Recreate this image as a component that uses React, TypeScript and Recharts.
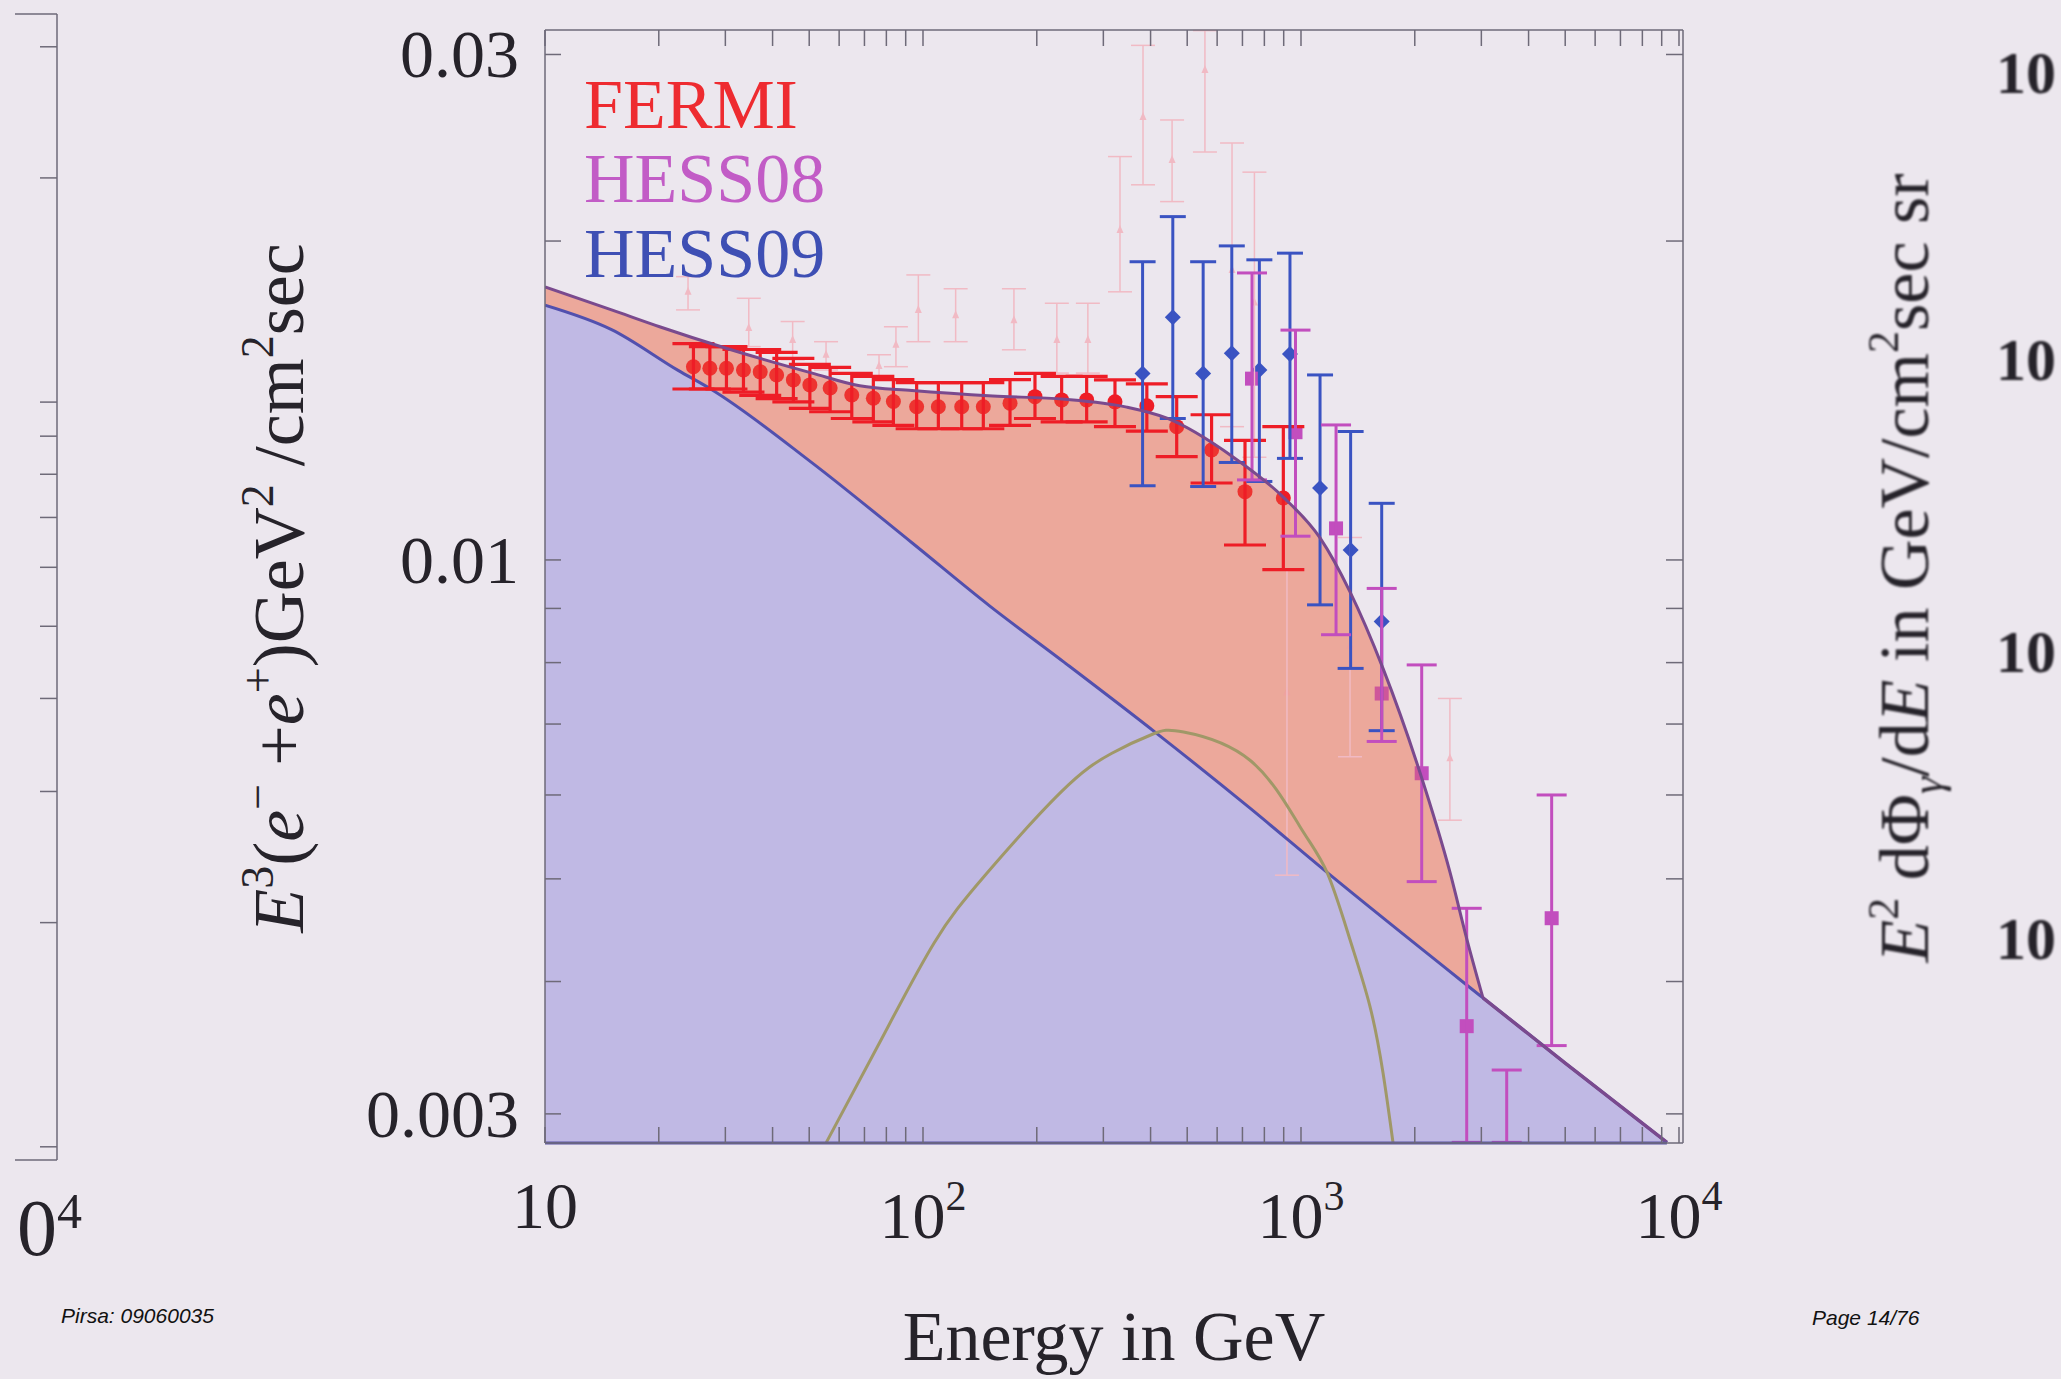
// E^3 (e- + e+) spectrum slide: FERMI / HESS data with background + DM signal curves
// log-log axes, filled background (lavender) and signal excess (salmon)

import React from 'react';
import {
  ComposedChart,
  Area,
  Line,
  Scatter,
  ErrorBar,
  XAxis,
  YAxis,
  ReferenceLine
} from 'recharts';

// ---- values (energy in GeV, E^3 flux) ----

// astrophysical background, blue curve
const bgEnergy = [10, 15, 22.5, 27.7, 50.9, 93.5, 150, 237, 415, 733, 1172, 3030, 5000, 9290];
const bgFlux = [0.0174, 0.0165, 0.0151, 0.01447, 0.01235, 0.01038, 0.00905, 0.008, 0.00686, 0.00583, 0.00507, 0.00386, 0.00335, 0.00282];

// background + signal, purple curve (joins the background at its last point)
const totalEnergy = [10, 15, 20.1, 30, 50.9, 68, 93.5, 153, 237, 346, 442, 661, 896, 1123, 1348, 1648, 2064, 2479, 2749, 3030];
const totalFlux = [0.0181, 0.01722, 0.0166, 0.01585, 0.01501, 0.0146, 0.01445, 0.01428, 0.01418, 0.01394, 0.01361, 0.01251, 0.01147, 0.01049, 0.00933, 0.0079, 0.0063, 0.00507, 0.00438, 0.00386];

// signal alone, olive curve
const sigEnergy = [55.5, 78, 107, 146, 232, 316, 406, 489, 733, 994, 1172, 1348, 1522, 1648, 1751];
const sigFlux = [0.00282, 0.00354, 0.00435, 0.00504, 0.00604, 0.00657, 0.00685, 0.00688, 0.00647, 0.0056, 0.00507, 0.00438, 0.00379, 0.00328, 0.00282];

// FERMI
const fermiEnergy = [24.7, 27.3, 30.2, 33.5, 37.1, 41.0, 45.4, 50.2, 56.8, 64.8, 73.9, 83.5, 96.2, 109.8, 126.6, 144.4, 169.9, 197.8, 232.7, 271, 322, 391, 469, 580, 711, 898];
const fermiFlux = [0.01522, 0.01517, 0.01517, 0.01511, 0.01505, 0.01495, 0.01479, 0.01463, 0.01453, 0.01431, 0.01421, 0.01411, 0.01395, 0.01395, 0.01395, 0.01395, 0.01406, 0.01426, 0.01416, 0.01416, 0.0141, 0.01398, 0.01336, 0.0127, 0.0116, 0.01144];
const fermiHigh = [0.016, 0.0159, 0.0159, 0.0158, 0.0158, 0.0157, 0.0155, 0.0153, 0.0152, 0.015, 0.0149, 0.0148, 0.0147, 0.0147, 0.0147, 0.0147, 0.0148, 0.015, 0.0149, 0.0149, 0.01479, 0.01466, 0.01426, 0.01371, 0.01297, 0.01336];
const fermiLow = [0.0145, 0.0145, 0.0145, 0.0144, 0.0143, 0.0142, 0.0141, 0.0139, 0.0138, 0.0136, 0.0135, 0.0134, 0.0133, 0.0133, 0.0133, 0.0133, 0.0134, 0.0136, 0.0135, 0.0135, 0.01336, 0.01323, 0.01252, 0.01182, 0.01033, 0.00979];

// HESS09
const hess09Energy = [381, 458, 551, 656, 776, 935, 1123, 1353, 1635];
const hess09Flux = [0.015, 0.01695, 0.015, 0.01567, 0.01511, 0.01565, 0.01169, 0.01022, 0.00875];
const hess09High = [0.01912, 0.02109, 0.01912, 0.01979, 0.0192, 0.01948, 0.01495, 0.01322, 0.01131];
const hess09Low = [0.01175, 0.0136, 0.01173, 0.01236, 0.01186, 0.01247, 0.00907, 0.0079, 0.0069];

// HESS08 (the two lowest bars run down to the axis)
const hess08Energy = [742, 967, 1238, 1635, 2086, 2744, 3501, 4604];
const hess08Flux = [0.01483, 0.0132, 0.01071, 0.00748, 0.00629, 0.00363, 0.0026, 0.00459];
const hess08High = [0.01866, 0.01648, 0.01341, 0.0094, 0.00796, 0.00469, 0.0033, 0.006];
const hess08Low = [0.0119, 0.01053, 0.0085, 0.00674, 0.00497, 0.00282, 0.00282, 0.00348];

// faint older data (pale pink triangles)
const oldEnergy = [23.9, 34.6, 45.2, 55.4, 76.5, 84.8, 97.2, 122, 174, 226, 273, 332, 382, 456, 557, 657, 753, 918, 1348, 2477];
const oldFlux = [0.01791, 0.01656, 0.01613, 0.01562, 0.01524, 0.01596, 0.01722, 0.01702, 0.01684, 0.01613, 0.01613, 0.02049, 0.02619, 0.02385, 0.029, 0.01878, 0.0175, 0.0075, 0.0083, 0.0065];
const oldHigh = [0.01851, 0.01766, 0.01679, 0.01607, 0.01562, 0.0166, 0.01858, 0.01803, 0.01803, 0.01747, 0.01747, 0.02403, 0.0306, 0.02602, 0.0316, 0.02475, 0.02323, 0.0098, 0.0105, 0.0074];
const oldLow = [0.01722, 0.0159, 0.01545, 0.01511, 0.0149, 0.01522, 0.01607, 0.01607, 0.01579, 0.01501, 0.01501, 0.01791, 0.0226, 0.02179, 0.02427, 0.01336, 0.0125, 0.00504, 0.00652, 0.00568];

// axes
const X_DOMAIN: [number, number] = [10, 10247];
const Y_DOMAIN: [number, number] = [0.002816, 0.03164];
const xTicks = [10, 20, 30, 40, 50, 60, 70, 80, 90, 100, 200, 300, 400, 500, 600, 700, 800, 900, 1000, 2000, 3000, 4000, 5000, 6000, 7000, 8000, 9000, 10000];
const yTicks = [0.003, 0.004, 0.005, 0.006, 0.007, 0.008, 0.009, 0.01, 0.02, 0.03];
const xTickLabels: Record<string, [string, string]> = {
  '10': ['10', ''],
  '100': ['10', '2'],
  '1000': ['10', '3'],
  '10000': ['10', '4']
};
const yTickLabels: Record<string, string> = { '0.03': '0.03', '0.01': '0.01', '0.003': '0.003' };

// neighbouring plot on the left edge of the slide (only its right axis shows)
const leftFrameDomain: [number, number] = [0.96, 33.2];
const leftFrameTicks = [1, 2, 3, 4, 5, 6, 7, 8, 9, 10, 20, 30];

const PAGE_W = 2061;
const PAGE_H = 1379;
const BG = '#ECE7EE';
const INK = '#26232A';
const AXIS = '#6E6A78';
const SERIF = '"Liberation Serif", "Times New Roman", serif';
const SANS = '"Liberation Sans", Arial, sans-serif';
const TICK_LEN = 16;

const FERMI_RED = '#EE1D26';
const HESS08_MAG = '#C24EBE';
const HESS09_BLUE = '#3A53C2';
const OLD_PINK = '#F1BAC4';

// HESS08 points sitting under the background curve are drawn above its fill
const UNDER_BG_FROM = 2500;

const zip = (es: number[], vs: number[]) => es.map((e, i) => ({ e, v: vs[i] }));
const withErr = (es: number[], vs: number[], lo: number[], hi: number[]) =>
  es.map((e, i) => ({ e, v: vs[i], err: [vs[i] - lo[i], hi[i] - vs[i]] }));

const bgData = zip(bgEnergy, bgFlux);
const totalData = zip(totalEnergy, totalFlux);
const tailData = bgData.filter(d => d.e >= totalEnergy[totalEnergy.length - 1]);
const sigData = zip(sigEnergy, sigFlux);
const fermiData = withErr(fermiEnergy, fermiFlux, fermiLow, fermiHigh);
const hess09Data = withErr(hess09Energy, hess09Flux, hess09Low, hess09High);
const hess08Data = withErr(hess08Energy, hess08Flux, hess08Low, hess08High);
const hess08Upper = hess08Data.filter(d => d.e < UNDER_BG_FROM);
const hess08Lower = hess08Data.filter(d => d.e >= UNDER_BG_FROM);
const oldData = withErr(oldEnergy, oldFlux, oldLow, oldHigh);

function BottomTick(props: any) {
  const { x, y, payload } = props;
  const lab = xTickLabels[String(payload.value)];
  return (
    <g>
      <line x1={x} y1={y} x2={x} y2={y - TICK_LEN} stroke={AXIS} strokeWidth={1.5} />
      {lab && (
        <text
          x={x}
          y={y + (lab[1] ? 95 : 85)}
          textAnchor="middle"
          fontFamily={SERIF}
          fontSize={66}
          fill={INK}
        >
          {lab[0]}
          {lab[1] && <tspan fontSize={42} dy={-28}>{lab[1]}</tspan>}
        </text>
      )}
    </g>
  );
}

function TopTick(props: any) {
  const { x, y } = props;
  return <line x1={x} y1={y} x2={x} y2={y + TICK_LEN} stroke={AXIS} strokeWidth={1.5} />;
}

function LeftTick(props: any) {
  const { x, y, payload } = props;
  const lab = yTickLabels[String(payload.value)];
  return (
    <g>
      <line x1={x} y1={y} x2={x + TICK_LEN} y2={y} stroke={AXIS} strokeWidth={1.5} />
      {lab && (
        <text x={x - 26} y={y + 23} textAnchor="end" fontFamily={SERIF} fontSize={68} fill={INK}>
          {lab}
        </text>
      )}
    </g>
  );
}

function RightTick(props: any) {
  const { x, y } = props;
  return <line x1={x} y1={y} x2={x - TICK_LEN - 1} y2={y} stroke={AXIS} strokeWidth={1.5} />;
}

const dot = (color: string, r: number) => (p: any) =>
  <circle cx={p.cx} cy={p.cy} r={r} fill={color} />;
const diamond = (color: string, h: number) => (p: any) =>
  <polygon points={`${p.cx},${p.cy - h} ${p.cx + h},${p.cy} ${p.cx},${p.cy + h} ${p.cx - h},${p.cy}`} fill={color} />;
const square = (color: string, h: number) => (p: any) =>
  <rect x={p.cx - h} y={p.cy - h} width={2 * h} height={2 * h} fill={color} />;
const triangle = (color: string, h: number) => (p: any) =>
  <polygon points={`${p.cx},${p.cy - h} ${p.cx + h * 0.7},${p.cy + h * 0.6} ${p.cx - h * 0.7},${p.cy + h * 0.6}`} fill={color} />;

function MainChart() {
  return (
    <ComposedChart
      width={PAGE_W}
      height={PAGE_H}
      margin={{ top: 20, right: 358, bottom: 116, left: 345 }}
    >
      {/* excess fill, light base */}
      <Area
        xAxisId="b" yAxisId="l" data={totalData} dataKey="v" type="monotone"
        baseValue={Y_DOMAIN[0]} fill="#ECC3BF" fillOpacity={1} stroke="none"
        isAnimationActive={false} zIndex={100}
      />

      {/* data */}
      <Scatter xAxisId="b" yAxisId="l" data={oldData} dataKey="v" shape={triangle(OLD_PINK, 5)} isAnimationActive={false} zIndex={200}>
        <ErrorBar dataKey="err" direction="y" width={12} stroke={OLD_PINK} strokeWidth={1.5} isAnimationActive={false} />
      </Scatter>
      <Scatter xAxisId="b" yAxisId="l" data={fermiData} dataKey="v" shape={dot(FERMI_RED, 7.5)} isAnimationActive={false} zIndex={201}>
        <ErrorBar dataKey="err" direction="y" width={21} stroke={FERMI_RED} strokeWidth={3.2} isAnimationActive={false} />
      </Scatter>
      <Scatter xAxisId="b" yAxisId="l" data={hess09Data} dataKey="v" shape={diamond(HESS09_BLUE, 8)} isAnimationActive={false} zIndex={202}>
        <ErrorBar dataKey="err" direction="y" width={13} stroke={HESS09_BLUE} strokeWidth={3} isAnimationActive={false} />
      </Scatter>
      <Scatter xAxisId="b" yAxisId="l" data={hess08Upper} dataKey="v" shape={square(HESS08_MAG, 7)} isAnimationActive={false} zIndex={203}>
        <ErrorBar dataKey="err" direction="y" width={15} stroke={HESS08_MAG} strokeWidth={3} isAnimationActive={false} />
      </Scatter>

      {/* translucent salmon drawn over the data below the total curve */}
      <Area
        xAxisId="b" yAxisId="l" data={totalData} dataKey="v" type="monotone"
        baseValue={Y_DOMAIN[0]} fill="#EC6948" fillOpacity={0.3} stroke="none"
        isAnimationActive={false} zIndex={300}
      />
      {/* background fill */}
      <Area
        xAxisId="b" yAxisId="l" data={bgData} dataKey="v" type="monotone"
        baseValue={Y_DOMAIN[0]} fill="#C0B9E4" fillOpacity={1} stroke="none"
        isAnimationActive={false} zIndex={310}
      />
      <Scatter xAxisId="b" yAxisId="l" data={hess08Lower} dataKey="v" shape={square(HESS08_MAG, 7)} isAnimationActive={false} zIndex={320}>
        <ErrorBar dataKey="err" direction="y" width={15} stroke={HESS08_MAG} strokeWidth={3} isAnimationActive={false} />
      </Scatter>

      {/* curves */}
      <Line xAxisId="b" yAxisId="l" data={bgData} dataKey="v" type="monotone" stroke="#5250AE" strokeWidth={3} dot={false} isAnimationActive={false} zIndex={400} />
      <Line xAxisId="b" yAxisId="l" data={sigData} dataKey="v" type="natural" stroke="#A09868" strokeWidth={3} dot={false} isAnimationActive={false} zIndex={401} />
      <Line xAxisId="b" yAxisId="l" data={totalData} dataKey="v" type="monotone" stroke="#7A4A8E" strokeWidth={3} dot={false} isAnimationActive={false} zIndex={402} />
      <Line xAxisId="b" yAxisId="l" data={tailData} dataKey="v" type="monotone" stroke="#7A4A8E" strokeWidth={3.4} dot={false} isAnimationActive={false} zIndex={403} />

      <ReferenceLine
        xAxisId="b" yAxisId="l"
        segment={[{ x: bgEnergy[0], y: Y_DOMAIN[0] }, { x: bgEnergy[bgEnergy.length - 1], y: Y_DOMAIN[0] }]}
        stroke="#5A54A6" strokeWidth={3} ifOverflow="visible" zIndex={450}
      />

      <XAxis
        xAxisId="b" type="number" dataKey="e" scale="log" domain={X_DOMAIN} allowDataOverflow
        ticks={xTicks} interval={0} tickSize={0} tickMargin={0} height={120}
        tickLine={false} axisLine={{ stroke: AXIS, strokeWidth: 1.5 }} tick={<BottomTick />} zIndex={500}
      />
      <XAxis
        xAxisId="t" orientation="top" type="number" dataKey="e" scale="log" domain={X_DOMAIN} allowDataOverflow
        ticks={xTicks} interval={0} tickSize={0} tickMargin={0} height={10}
        tickLine={false} axisLine={{ stroke: AXIS, strokeWidth: 1.5 }} tick={<TopTick />} zIndex={500}
      />
      <YAxis
        yAxisId="l" type="number" scale="log" domain={Y_DOMAIN} allowDataOverflow
        ticks={yTicks} interval={0} tickSize={0} tickMargin={0} width={200}
        tickLine={false} axisLine={{ stroke: AXIS, strokeWidth: 1.5 }} tick={<LeftTick />} zIndex={500}
      />
      <YAxis
        yAxisId="r" orientation="right" type="number" scale="log" domain={Y_DOMAIN} allowDataOverflow
        ticks={yTicks} interval={0} tickSize={0} tickMargin={0} width={20}
        tickLine={false} axisLine={{ stroke: AXIS, strokeWidth: 1.5 }} tick={<RightTick />} zIndex={500}
      />
    </ComposedChart>
  );
}

function LeftFrame() {
  // right edge of the neighbouring plot, cut by the slide border
  return (
    <div style={{ position: 'absolute', left: 15, top: 0, width: 44, height: PAGE_H, overflow: 'hidden' }}>
      <div style={{ position: 'absolute', left: -257, top: 0 }}>
        <ComposedChart width={300} height={PAGE_H} margin={{ top: 13, right: 0, bottom: 218, left: 0 }}>
          <XAxis type="number" domain={[0, 1]} height={1} tick={false} tickLine={false} axisLine={{ stroke: AXIS, strokeWidth: 1.5 }} />
          <XAxis xAxisId="top" orientation="top" type="number" domain={[0, 1]} height={1} tick={false} tickLine={false} axisLine={{ stroke: AXIS, strokeWidth: 1.5 }} />
          <YAxis
            orientation="right" type="number" scale="log" domain={leftFrameDomain} allowDataOverflow
            ticks={leftFrameTicks} interval={0} tickSize={0} tickMargin={0} width={1}
            tickLine={false} axisLine={{ stroke: AXIS, strokeWidth: 1.5 }} tick={<RightTick />}
          />
        </ComposedChart>
      </div>
    </div>
  );
}

function Overlay() {
  const sup = 46;
  return (
    <svg width={PAGE_W} height={PAGE_H} style={{ position: 'absolute', left: 0, top: 0, pointerEvents: 'none' }}>
      {/* legend */}
      <g fontFamily={SERIF} fontSize={70}>
        <text x={584} y={128} fill="#EE2B30">FERMI</text>
        <text x={584} y={202} fill="#C25CC6">HESS08</text>
        <text x={584} y={277} fill="#3E4FB4">HESS09</text>
      </g>

      {/* y axis title */}
      <text transform="translate(303 588) rotate(-90)" textAnchor="middle" fontFamily={SERIF} fontSize={72} fill={INK}>
        <tspan fontStyle="italic">E</tspan>
        <tspan fontSize={sup} dy={-30}>3</tspan>
        <tspan dy={30}>(</tspan>
        <tspan fontStyle="italic">e</tspan>
        <tspan fontSize={sup} dy={-30}>−</tspan>
        <tspan dy={30}> +</tspan>
        <tspan fontStyle="italic">e</tspan>
        <tspan fontSize={sup} dy={-30}>+</tspan>
        <tspan dy={30}>)GeV</tspan>
        <tspan fontSize={sup} dy={-30}>2</tspan>
        <tspan dy={30}> /cm</tspan>
        <tspan fontSize={sup} dy={-30}>2</tspan>
        <tspan dy={30}>sec</tspan>
      </text>

      {/* x axis title */}
      <text x={1114} y={1360} textAnchor="middle" fontFamily={SERIF} fontSize={70} fill={INK}>
        Energy in GeV
      </text>

      {/* what is left of the x label of the plot on the left */}
      <text x={17} y={1255} fontFamily={SERIF} fontSize={80} fill={INK}>
        0<tspan fontSize={50} dy={-27}>4</tspan>
      </text>

      {/* next plot on the right, partly visible */}
      <g style={{ filter: 'blur(1.2px)' }}>
        <text transform="translate(1928 568) rotate(-90)" textAnchor="middle" fontFamily={SERIF} fontSize={70} fill={INK}>
          <tspan fontStyle="italic">E</tspan>
          <tspan fontSize={44} dy={-30}>2</tspan>
          <tspan dy={30}>  dΦ</tspan>
          <tspan fontSize={44} fontStyle="italic" dy={14}>γ</tspan>
          <tspan dy={-14}>/d</tspan>
          <tspan fontStyle="italic">E</tspan>
          <tspan> in GeV/cm</tspan>
          <tspan fontSize={44} dy={-30}>2</tspan>
          <tspan dy={30}>sec sr</tspan>
        </text>
        <g fontFamily={SERIF} fontSize={60} fontWeight="bold" fill={INK}>
          <text x={1996} y={93}>10</text>
          <text x={1996} y={380}>10</text>
          <text x={1996} y={672}>10</text>
          <text x={1996} y={959}>10</text>
        </g>
      </g>

      {/* slide footer */}
      <g fontFamily={SANS} fontSize={21} fontStyle="italic" fill="#111">
        <text x={61} y={1323}>Pirsa: 09060035</text>
        <text x={1812} y={1325}>Page 14/76</text>
      </g>
    </svg>
  );
}

export default function App() {
  return (
    <div style={{ position: 'relative', width: PAGE_W, height: PAGE_H, background: BG, overflow: 'hidden' }}>
      <style>{'body{margin:0}'}</style>
      <div style={{ position: 'absolute', left: 0, top: 0 }}>
        <MainChart />
      </div>
      <LeftFrame />
      <Overlay />
    </div>
  );
}
